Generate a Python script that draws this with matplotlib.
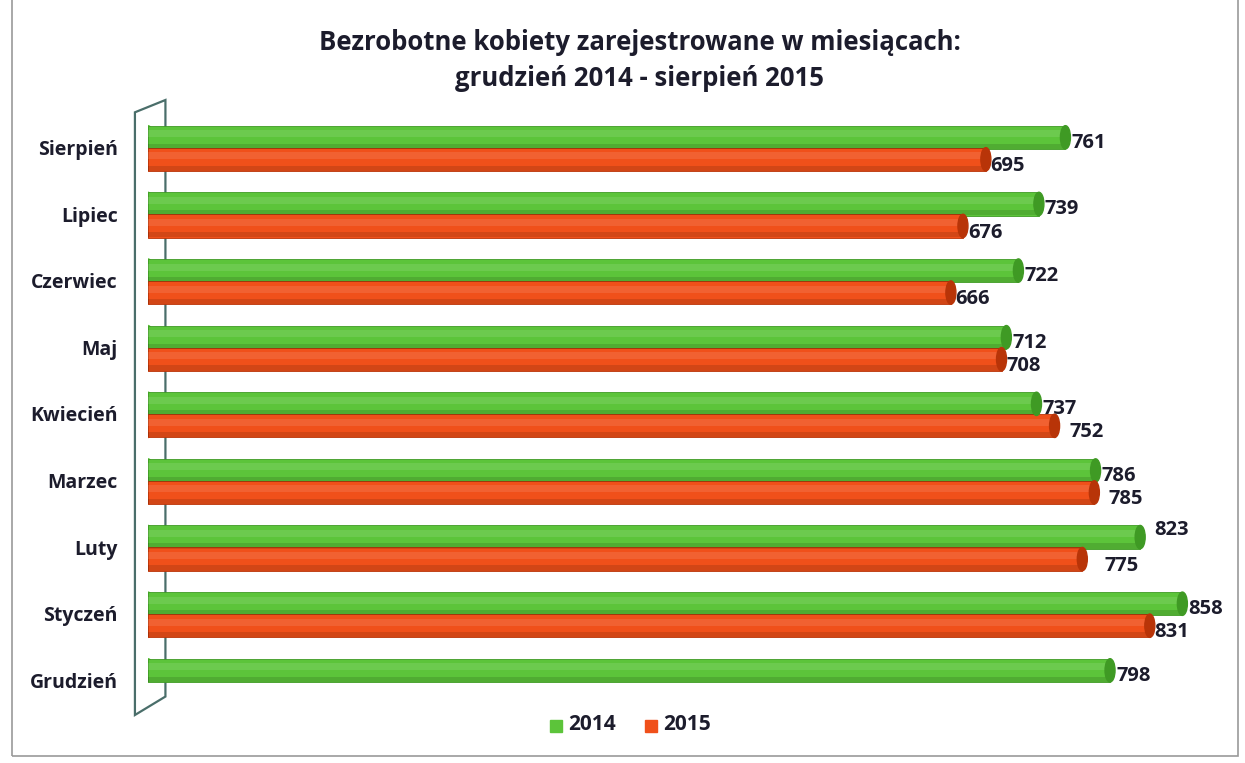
import numpy as np
import matplotlib.pyplot as plt
from matplotlib.patches import Ellipse, Polygon, Rectangle

# Data (bottom -> top)
months = ['Grudzień', 'Styczeń', 'Luty', 'Marzec', 'Kwiecień',
          'Maj', 'Czerwiec', 'Lipiec', 'Sierpień']
vals_2014 = [798, 858, 823, 786, 737, 712, 722, 739, 761]
vals_2015 = [None, 831, 775, 785, 752, 708, 666, 676, 695]

green = '#5cc43a'
green_dark = '#3f9a24'
orange = '#f0501a'
orange_dark = '#b83408'
txt = '#1c1c2c'

plt.rcParams['font.family'] = ['Open Sans', 'DejaVu Sans']

fig = plt.figure(figsize=(12.45, 7.63), dpi=100)
W, H = 1245, 763

# outer frame of the scanned chart
fig.patches.append(Rectangle((12 / W, 7 / H), 1226 / W, 760 / H, transform=fig.transFigure,
                             fill=False, edgecolor='#9a9a9a', lw=1.2))

ax = fig.add_axes([148 / W, (H - 715) / H, 1085 / W, 615 / H])
ax.set_xlim(0, 900)
ax.set_ylim(-0.48, 8.75)
ax.axis('off')

y = np.arange(len(months))
h = 0.35
off_g, off_o = 0.19, -0.14

# left wall (3D back panel)
wall = Polygon([(-15 / W, 0), (-15 / W, 0.98), (20 / W, 1.0), (20 / W, 0.03)],
               closed=True, fill=False, edgecolor='#4a6e6a', lw=1.6,
               transform=ax.transAxes, clip_on=False)
ax.add_patch(wall)

px = 1085 / 900  # pixels per unit
cap_w = 10 / px


def draw_bar(v, yc, col, dcol):
    ax.barh(yc, v, height=h, color=col, edgecolor=dcol, lw=0.6, zorder=3)
    ax.barh(yc + h * 0.15, v, height=h * 0.3, color='white', alpha=0.10, lw=0, zorder=4)
    ax.barh(yc - h * 0.38, v, height=h * 0.22, color='black', alpha=0.12, lw=0, zorder=4)
    ax.add_patch(Ellipse((0, yc), cap_w, h, color=col, zorder=2))
    ax.add_patch(Ellipse((v, yc), cap_w, h, facecolor=dcol, edgecolor=dcol, zorder=5))


for i in range(len(months)):
    draw_bar(vals_2014[i], y[i] + off_g, green, green_dark)
    if vals_2015[i] is not None:
        draw_bar(vals_2015[i], y[i] + off_o, orange, orange_dark)

# value labels
fs_val = 14.5
for i in range(len(months)):
    v = vals_2014[i]
    dy = -0.08
    dx = 5
    if months[i] == 'Luty':
        dx, dy = 12, 0.1
    ax.text(v + dx, y[i] + off_g + dy, str(v), ha='left', va='center',
            fontsize=fs_val, fontweight='bold', color=txt, zorder=6)
    v2 = vals_2015[i]
    if v2 is not None:
        dx2, dy2 = 4, -0.1
        if months[i] in ('Luty', 'Marzec', 'Kwiecień'):
            dx2 = 12 if months[i] != 'Luty' else 18
        ax.text(v2 + dx2, y[i] + off_o + dy2, str(v2), ha='left', va='center',
                fontsize=fs_val, fontweight='bold', color=txt, zorder=6)

# category labels
for i, m in enumerate(months):
    ax.text(-25, y[i], m, ha='right', va='center', fontsize=14,
            fontweight='bold', color=txt)

fig.text(640 / W, 1 - 42 / H, 'Bezrobotne kobiety zarejestrowane w miesiącach:',
         ha='center', va='center', fontsize=18.5, fontweight='bold', color=txt)
fig.text(640 / W, 1 - 78 / H, 'grudzień 2014 - sierpień 2015',
         ha='center', va='center', fontsize=18.5, fontweight='bold', color=txt)

# legend
for xs, col, lab in [(550, green, '2014'), (645, orange, '2015')]:
    fig.patches.append(Rectangle((xs / W, 1 - 732 / H), 12 / W, 12 / H,
                                 transform=fig.transFigure, color=col))
    fig.text((xs + 18) / W, 1 - 725 / H, lab, ha='left', va='center',
             fontsize=15, fontweight='bold', color=txt)

fig.savefig('out.png', dpi=100, facecolor='white')
